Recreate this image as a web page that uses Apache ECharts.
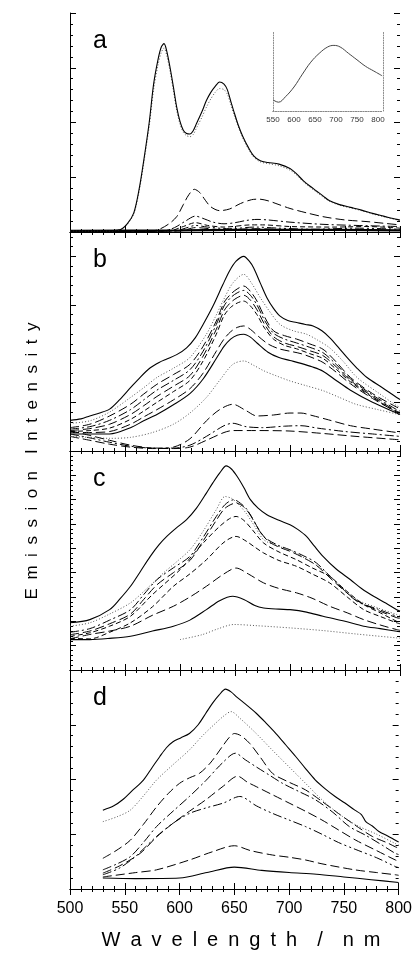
<!DOCTYPE html>
<html><head><meta charset="utf-8">
<script src="https://cdn.jsdelivr.net/npm/echarts@6/dist/echarts.min.js"></script>
<style>html,body{margin:0;padding:0;background:#fff}#c{width:415px;height:957px}</style>
</head><body><div id="c"></div>
<script>
// ---------- tick labels ----------
const xTickValues = [500, 550, 600, 650, 700, 750, 800];
const insetTickValues = [550, 600, 650, 700, 750, 800];
const panelLabels = ['a', 'b', 'c', 'd'];
const panelYMax = [4, 4.5, 9, 4];

// ---------- panel a ----------
const a1 = [[500,0.02],[530,0.02],[545,0.04],[552,0.15],[558,0.35],[563,0.8],[567,1.3],[572,2.0],[576,2.7],[580,3.15],[583,3.38],[585.5,3.44],[588,3.3],[591,3.0],[594,2.65],[597,2.28],[600,2.02],[603,1.86],[606,1.8],[609,1.79],[612,1.85],[615,1.98],[620,2.2],[624,2.4],[628,2.55],[632,2.66],[636,2.74],[640,2.7],[643,2.6],[646,2.4],[649,2.2],[653,1.95],[657,1.75],[662,1.55],[667,1.39],[673,1.3],[680,1.27],[690,1.24],[700,1.16],[706,1.06],[712,0.94],[718,0.84],[724,0.75],[730,0.66],[736,0.57],[745,0.5],[755,0.45],[765,0.4],[775,0.34],[785,0.29],[797,0.23],[800,0.22]];
const a2 = [[500,0.02],[530,0.02],[545,0.04],[552,0.14],[558,0.33],[563,0.76],[567,1.25],[572,1.93],[576,2.6],[580,3.05],[583,3.28],[585.5,3.36],[588,3.22],[591,2.93],[594,2.58],[597,2.22],[600,1.97],[603,1.82],[606,1.76],[609,1.74],[612,1.78],[615,1.9],[620,2.1],[624,2.28],[628,2.43],[632,2.55],[636,2.62],[640,2.6],[643,2.52],[646,2.34],[649,2.15],[653,1.92],[657,1.72],[662,1.52],[667,1.37],[673,1.28],[680,1.25],[690,1.21],[700,1.13],[706,1.04],[712,0.92],[718,0.82],[724,0.73],[730,0.64],[736,0.56],[745,0.49],[755,0.44],[765,0.39],[775,0.33],[785,0.28],[797,0.22],[800,0.21]];
const a3 = [[500,0.01],[570,0.01],[580,0.04],[590,0.15],[597,0.28],[603,0.5],[608,0.68],[613,0.78],[618,0.72],[623,0.58],[628,0.46],[636,0.39],[645,0.42],[655,0.52],[665,0.59],[672,0.6],[680,0.57],[690,0.5],[700,0.43],[715,0.35],[730,0.28],[750,0.22],[770,0.19],[785,0.16],[800,0.13]];
const a4 = [[500,0.01],[585,0.02],[595,0.08],[605,0.2],[614,0.29],[622,0.24],[630,0.18],[640,0.15],[650,0.17],[660,0.21],[670,0.23],[680,0.22],[700,0.18],[730,0.14],[760,0.12],[800,0.1]];
const a5 = [[500,0.01],[590,0.02],[603,0.1],[614,0.17],[625,0.12],[640,0.09],[665,0.13],[675,0.13],[700,0.1],[740,0.09],[770,0.1],[800,0.07]];
const a6 = [[500,0.01],[595,0.02],[605,0.07],[614,0.12],[625,0.09],[645,0.06],[668,0.09],[690,0.07],[720,0.05],[760,0.07],[800,0.05]];
const a7 = [[500,0.01],[600,0.02],[614,0.08],[640,0.04],[668,0.06],[720,0.03],[800,0.03]];
const a8 = [[500,0.02],[600,0.03],[650,0.04],[700,0.04],[800,0.03]];

// ---------- inset (panel a) ----------
const inset1 = [[550,0.14],[563,0.11],[580,0.18],[600,0.30],[620,0.46],[640,0.61],[660,0.72],[680,0.80],[695,0.82],[710,0.80],[730,0.72],[750,0.64],[770,0.56],[790,0.50],[810,0.44]];

// ---------- panel b ----------
const b1 = [[500,0.63],[510,0.66],[518,0.72],[527,0.78],[536,0.86],[545,1.05],[555,1.3],[564,1.52],[573,1.71],[581,1.82],[588,1.89],[597,1.98],[606,2.12],[614,2.33],[621,2.6],[630,2.98],[639,3.42],[645,3.7],[651,3.9],[658,4.0],[663,3.9],[667,3.76],[673,3.45],[679,3.15],[685,2.93],[691,2.77],[698,2.68],[706,2.64],[714,2.6],[721,2.57],[729,2.47],[736,2.33],[744,2.13],[752,1.92],[761,1.7],[770,1.51],[784,1.3],[797,1.1],[800,1.06]];
const b2 = [[500,0.57],[518,0.62],[536,0.8],[555,1.1],[567,1.3],[579,1.51],[594,1.7],[609,1.92],[624,2.4],[632,2.75],[639,3.08],[648,3.45],[658,3.63],[665,3.45],[673,3.15],[682,2.85],[691,2.6],[703,2.47],[715,2.4],[725,2.28],[736,2.12],[748,1.85],[761,1.51],[780,1.2],[797,0.93],[800,0.9]];
const b3 = [[500,0.48],[518,0.55],[536,0.72],[555,0.96],[567,1.17],[579,1.37],[594,1.57],[609,1.78],[621,2.15],[633,2.67],[640,3.05],[646,3.22],[652,3.33],[658,3.39],[664,3.28],[670,3.08],[677,2.75],[685,2.47],[695,2.37],[706,2.3],[718,2.2],[730,2.09],[742,1.83],[755,1.51],[775,1.18],[797,0.9],[800,0.87]];
const b4 = [[500,0.45],[518,0.5],[536,0.63],[555,0.85],[567,1.05],[579,1.25],[594,1.45],[609,1.67],[621,2.05],[633,2.6],[640,2.98],[646,3.15],[652,3.25],[658,3.3],[664,3.2],[670,3.0],[677,2.68],[685,2.42],[695,2.3],[706,2.22],[718,2.13],[730,2.02],[742,1.78],[755,1.48],[775,1.15],[797,0.85],[800,0.82]];
const b5 = [[500,0.42],[518,0.46],[536,0.55],[555,0.75],[567,0.93],[579,1.12],[594,1.33],[609,1.55],[621,1.95],[633,2.5],[640,2.88],[646,3.05],[652,3.15],[658,3.2],[664,3.1],[670,2.9],[677,2.6],[685,2.35],[695,2.22],[706,2.15],[718,2.06],[730,1.96],[742,1.73],[755,1.45],[775,1.12],[797,0.82],[800,0.79]];
const b6 = [[500,0.4],[518,0.42],[536,0.47],[555,0.65],[567,0.82],[579,1.0],[594,1.22],[609,1.45],[621,1.85],[633,2.4],[640,2.78],[646,2.95],[652,3.04],[658,3.08],[664,2.98],[670,2.8],[677,2.52],[685,2.3],[695,2.17],[706,2.1],[718,2.0],[730,1.9],[742,1.68],[755,1.42],[775,1.1],[797,0.8],[800,0.78]];
const b7 = [[500,0.38],[518,0.38],[536,0.4],[555,0.55],[567,0.7],[579,0.85],[594,1.05],[609,1.28],[621,1.6],[633,2.05],[640,2.3],[646,2.45],[652,2.54],[658,2.57],[664,2.5],[670,2.38],[680,2.2],[690,2.1],[700,2.05],[710,2.0],[720,1.92],[730,1.82],[742,1.62],[755,1.38],[775,1.08],[797,0.8],[800,0.78]];
const b8 = [[500,0.35],[518,0.35],[536,0.35],[555,0.48],[567,0.62],[579,0.75],[594,0.95],[609,1.18],[621,1.48],[633,1.9],[640,2.15],[646,2.3],[652,2.38],[658,2.4],[664,2.34],[670,2.22],[680,2.03],[690,1.92],[700,1.86],[710,1.8],[720,1.73],[730,1.64],[742,1.45],[755,1.25],[775,1.0],[797,0.78],[800,0.75]];
const b9 = [[500,0.3],[518,0.28],[536,0.26],[555,0.28],[575,0.38],[594,0.55],[609,0.78],[624,1.1],[636,1.45],[648,1.78],[658,1.85],[667,1.76],[676,1.65],[688,1.54],[700,1.44],[715,1.34],[730,1.24],[745,1.1],[760,0.96],[780,0.85],[797,0.76],[800,0.74]];
const b10 = [[500,0.3],[518,0.22],[536,0.14],[555,0.08],[575,0.05],[594,0.08],[609,0.25],[624,0.62],[636,0.85],[648,0.96],[660,0.83],[670,0.72],[685,0.74],[700,0.78],[710,0.78],[720,0.73],[735,0.64],[755,0.52],[775,0.45],[797,0.38],[800,0.37]];
const b11 = [[500,0.35],[518,0.27],[536,0.18],[555,0.1],[575,0.06],[594,0.06],[609,0.12],[624,0.3],[640,0.52],[648,0.57],[660,0.5],[675,0.48],[695,0.51],[710,0.52],[725,0.47],[750,0.4],[775,0.35],[800,0.3]];
const b12 = [[500,0.42],[518,0.32],[536,0.22],[555,0.12],[575,0.06],[594,0.05],[609,0.08],[624,0.22],[640,0.38],[648,0.42],[670,0.42],[700,0.41],[730,0.36],[760,0.3],[800,0.23]];

// ---------- panel c ----------
const c1 = [[500,1.94],[518,2.07],[536,2.48],[545,2.9],[555,3.44],[564,4.05],[573,4.67],[581,5.15],[588,5.49],[597,5.85],[606,6.18],[615,6.65],[624,7.27],[630,7.7],[636,8.09],[642,8.39],[647,8.25],[652,7.95],[658,7.5],[664,7.0],[671,6.65],[679,6.38],[690,6.15],[700,5.97],[707,5.78],[715,5.49],[722,5.1],[730,4.67],[742,4.15],[755,3.71],[765,3.35],[776,3.03],[787,2.75],[797,2.48],[800,2.42]];
const c2 = [[500,1.8],[518,1.94],[536,2.3],[555,2.76],[570,3.35],[585,3.99],[597,4.45],[609,4.94],[621,5.7],[633,6.59],[641,7.13],[647,7.05],[652,6.86],[660,6.45],[668,5.9],[676,5.36],[688,5.1],[700,4.94],[715,4.55],[730,4.12],[745,3.5],[761,2.89],[780,2.55],[797,2.28],[800,2.24]];
const c3 = [[500,1.55],[518,1.7],[536,2.05],[555,2.48],[567,3.1],[579,3.71],[594,4.2],[609,4.67],[621,5.45],[633,6.31],[641,6.8],[649,7.0],[655,6.85],[661,6.59],[668,6.05],[676,5.49],[688,5.15],[700,4.94],[712,4.7],[724,4.4],[742,3.6],[761,2.82],[780,2.5],[797,2.21],[800,2.18]];
const c4 = [[500,1.45],[518,1.6],[536,1.9],[555,2.3],[567,2.9],[579,3.5],[594,4.0],[609,4.5],[621,5.3],[633,6.15],[641,6.65],[651,6.86],[658,6.7],[665,6.3],[672,5.75],[680,5.3],[690,5.05],[700,4.88],[712,4.62],[724,4.3],[742,3.55],[761,2.85],[780,2.45],[797,2.15],[800,2.12]];
const c5 = [[500,1.38],[518,1.53],[536,1.8],[555,2.21],[575,3.1],[600,4.12],[612,4.75],[624,5.36],[636,5.9],[645,6.22],[651,6.31],[658,6.15],[666,5.75],[676,5.22],[690,4.85],[706,4.53],[720,4.2],[736,3.85],[750,3.3],[767,2.69],[782,2.35],[797,2.0],[800,1.95]];
const c6 = [[500,1.3],[518,1.28],[536,1.55],[555,1.94],[575,2.6],[594,3.44],[609,3.95],[624,4.53],[640,5.25],[651,5.49],[660,5.3],[668,5.05],[676,4.81],[690,4.5],[706,4.26],[720,3.95],[736,3.58],[752,3.0],[767,2.48],[782,2.2],[797,1.94],[800,1.9]];
const c7 = [[500,1.28],[518,1.46],[536,1.6],[555,1.8],[575,2.25],[594,2.62],[609,3.0],[624,3.44],[640,3.95],[651,4.19],[662,3.95],[676,3.58],[690,3.35],[706,3.17],[720,2.95],[736,2.62],[752,2.35],[767,2.07],[782,1.85],[797,1.66],[800,1.63]];
const c8 = [[500,1.25],[518,1.25],[536,1.3],[555,1.39],[575,1.6],[594,1.8],[609,2.05],[624,2.48],[636,2.85],[648,3.03],[658,2.9],[668,2.65],[676,2.55],[690,2.5],[700,2.48],[715,2.38],[730,2.21],[750,2.0],[767,1.8],[782,1.7],[797,1.59],[800,1.57]];
const c9 = [[600,1.25],[620,1.45],[635,1.7],[649,1.87],[670,1.82],[700,1.73],[730,1.62],[760,1.48],[797,1.32],[800,1.31]];

// ---------- panel d ----------
const d1 = [[530,1.44],[540,1.52],[548,1.63],[557,1.8],[567,1.99],[575,2.22],[582,2.42],[588,2.58],[594,2.69],[601,2.76],[609,2.84],[617,3.0],[624,3.21],[630,3.39],[636,3.54],[642,3.65],[647,3.6],[652,3.51],[660,3.38],[670,3.21],[679,3.03],[688,2.84],[697,2.63],[706,2.42],[715,2.2],[724,1.99],[733,1.83],[742,1.69],[751,1.57],[760,1.44],[766,1.36],[770,1.23],[776,1.15],[782,1.05],[790,0.97],[797,0.89],[800,0.86]];
const d2 = [[530,1.23],[543,1.32],[555,1.44],[567,1.7],[579,1.99],[594,2.27],[609,2.54],[621,2.8],[633,3.03],[641,3.17],[647,3.24],[655,3.12],[670,2.84],[685,2.53],[700,2.23],[715,1.93],[730,1.63],[745,1.38],[761,1.17],[780,1.0],[797,0.83],[800,0.81]];
const d3 = [[530,0.56],[542,0.7],[555,0.89],[567,1.18],[579,1.5],[590,1.75],[600,1.93],[609,2.03],[618,2.11],[628,2.3],[639,2.6],[645,2.76],[650,2.84],[656,2.8],[664,2.66],[674,2.4],[685,2.11],[700,1.95],[715,1.81],[730,1.6],[745,1.38],[760,1.17],[776,0.96],[790,0.84],[797,0.77],[800,0.75]];
const d4 = [[530,0.35],[542,0.45],[555,0.59],[567,0.85],[579,1.14],[594,1.42],[609,1.69],[624,1.98],[639,2.3],[651,2.48],[660,2.36],[670,2.23],[682,2.08],[694,1.93],[709,1.78],[724,1.63],[740,1.4],[755,1.14],[770,0.98],[785,0.8],[797,0.65],[800,0.63]];
const d5 = [[530,0.29],[545,0.42],[564,0.65],[579,0.95],[594,1.2],[609,1.42],[624,1.63],[640,1.88],[653,2.06],[662,1.95],[670,1.87],[685,1.72],[700,1.57],[715,1.42],[730,1.26],[745,1.08],[761,0.89],[780,0.7],[797,0.53],[800,0.51]];
const d6 = [[530,0.26],[545,0.38],[560,0.6],[579,0.96],[594,1.2],[609,1.38],[624,1.48],[640,1.57],[655,1.69],[670,1.52],[685,1.38],[700,1.26],[715,1.14],[730,1.0],[745,0.85],[761,0.72],[780,0.57],[797,0.41],[800,0.39]];
const d7 = [[530,0.22],[560,0.3],[579,0.35],[609,0.53],[630,0.68],[650,0.79],[665,0.7],[685,0.62],[700,0.58],[715,0.53],[730,0.46],[760,0.35],[780,0.3],[797,0.26],[800,0.25]];
const d8 = [[530,0.2],[560,0.19],[600,0.2],[625,0.3],[650,0.4],[675,0.34],[700,0.3],[725,0.27],[750,0.22],[775,0.17],[800,0.12]];

// ---------- curve → style assignment ----------
const panelCurves = [
  [[a8,'thick'],[a7,'ldash'],[a6,'dashdotdot'],[a5,'dash'],[a4,'dashdot'],[a3,'ldash'],[a2,'dot'],[a1,'solid']],
  [[b12,'ldash'],[b11,'dashdot'],[b10,'ldash'],[b9,'dot'],[b8,'solid'],[b7,'ldash'],[b6,'dash'],[b5,'ldash'],[b4,'dashdot'],[b3,'ldash'],[b2,'dot'],[b1,'solid']],
  [[c9,'dot'],[c8,'solid'],[c7,'ldash'],[c6,'dash'],[c5,'dash'],[c4,'ldash'],[c3,'dashdot'],[c2,'dot'],[c1,'solid']],
  [[d8,'solid'],[d7,'ldash'],[d6,'dashdotdot'],[d5,'ldash'],[d4,'dashdot'],[d3,'ldash'],[d2,'dot'],[d1,'solid']]
];

// ---------- styles / layout ----------
const FONT = '"Liberation Sans", Arial, Helvetica, sans-serif';
const STY = {
  solid: {type:'solid', color:'#000', width:1.1},
  thick: {type:'solid', color:'#000', width:2.2},
  dot: {type:[1,2], color:'#555', width:1},
  ldash: {type:[9,4], color:'#000', width:1},
  dash: {type:[5,3], color:'#000', width:1},
  dashdot: {type:[9,3,2,3], color:'#000', width:1},
  dashdotdot: {type:[9,3,2,3,2,3], color:'#000', width:1}
};
const L = 70, W = 330, TOP = 13, PH = 219;

const grids = [], xAxes = [], yAxes = [], series = [];
const axLine = {show:true, lineStyle:{color:'#000', width:1}};
for (let i = 0; i < 4; i++) {
  grids.push({left:L, top:TOP + i*PH, width:W, height:PH, containLabel:false});
  const isBottom = i === 3;
  const baseX = {
    type:'value', gridIndex:i, min:500, max:800, interval:50,
    axisLine:axLine, splitLine:{show:false},
    axisTick:{show:true, inside:true, length:6, lineStyle:{color:'#000'}},
    minorTick:{show:true, splitNumber:5, length:3, lineStyle:{color:'#000'}},
    minorSplitLine:{show:false}
  };
  xAxes.push(Object.assign({}, baseX, {position:'bottom',
    axisLabel:{show:isBottom, margin:12, fontSize:16, fontFamily:FONT, color:'#000',
      formatter:v => xTickValues.includes(v) ? String(v) : ''}}));
  xAxes.push(Object.assign({}, baseX, {position:'top', axisLabel:{show:false}}));
  const baseY = {
    type:'value', gridIndex:i, min:0, max:panelYMax[i], interval:1,
    splitLine:{show:false}, axisLabel:{show:false},
    axisTick:{show:true, inside:true, length:6, lineStyle:{color:'#000'}},
    minorTick:{show:true, splitNumber:5, length:3, lineStyle:{color:'#000'}}
  };
  yAxes.push(Object.assign({}, baseY, {position:'left', axisLine:axLine}));
  yAxes.push(Object.assign({}, baseY, {position:'right', axisLine:{show:false}}));
  panelCurves[i].forEach(([data, st]) => {
    series.push({type:'line', xAxisIndex:2*i, yAxisIndex:2*i, data:data,
      showSymbol:false, smooth:0.3, silent:true, animation:false,
      lineStyle:STY[st], z:3});
  });
}
// inset grid (index 4)
grids.push({left:273, top:31, width:110, height:80});
const insetLine = {show:true, lineStyle:{color:'#888', width:1, type:[1,1.5]}};
xAxes.push({type:'value', gridIndex:4, min:550, max:812, interval:50, position:'bottom',
  axisLine:insetLine, splitLine:{show:false}, axisTick:{show:false},
  axisLabel:{show:true, margin:5, fontSize:8, fontFamily:FONT, color:'#333', showMaxLabel:false,
    formatter:v => insetTickValues.includes(v) ? String(v) : ''}});
xAxes.push({type:'value', gridIndex:4, min:550, max:812, position:'top',
  axisLine:insetLine, splitLine:{show:false}, axisTick:{show:false}, axisLabel:{show:false}});
yAxes.push({type:'value', gridIndex:4, min:0, max:1, position:'left',
  axisLine:insetLine, splitLine:{show:false}, axisTick:{show:false}, axisLabel:{show:false}});
yAxes.push({type:'value', gridIndex:4, min:0, max:1, position:'right',
  axisLine:insetLine, splitLine:{show:false}, axisTick:{show:false}, axisLabel:{show:false}});
series.push({type:'line', xAxisIndex:8, yAxisIndex:8, data:inset1, showSymbol:false,
  smooth:0.4, silent:true, animation:false, lineStyle:{color:'#444', width:1}});

const SP = '\u2002';
const graphic = panelLabels.map((t, i) => ({
  type:'text', x:93, y:TOP + i*PH + 28,
  style:{text:t, fontSize:25, fontFamily:FONT, fill:'#000', align:'left', verticalAlign:'middle'}
}));
graphic.push({type:'text', x:32, y:461, rotation:Math.PI/2,
  style:{text:'Emission'.split('').join(SP) + SP+SP + 'Intensity'.split('').join(SP),
    fontSize:17, fontFamily:FONT, fill:'#000', align:'center', verticalAlign:'middle'}});
graphic.push({type:'text', x:241, y:940,
  style:{text:'Wavelength'.split('').join(SP) + SP+SP + '/' + SP+SP + 'nm'.split('').join(SP),
    fontSize:20, fontFamily:FONT, fill:'#000', align:'center', verticalAlign:'middle'}});

const chart = echarts.init(document.getElementById('c'), null, {renderer:'canvas'});
chart.setOption({animation:false, backgroundColor:'#fff', grid:grids, xAxis:xAxes, yAxis:yAxes,
  series:series, graphic:graphic});
</script></body></html>
